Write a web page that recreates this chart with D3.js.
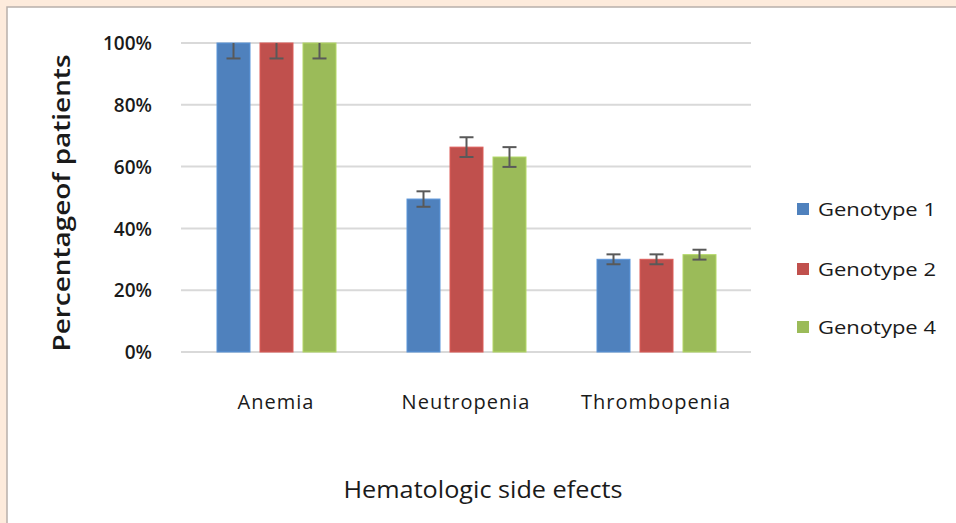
<!DOCTYPE html>
<html><head><meta charset="utf-8">
<script src="https://cdn.jsdelivr.net/npm/d3@7/dist/d3.min.js"></script>
<style>
html,body{margin:0;padding:0;background:#fdebdc;}
svg{display:block;}
text{font-family:"Open Sans","Noto Sans",sans-serif;fill:#1a1a1a;}
</style></head>
<body>
<svg id="chart" width="956" height="523"></svg>
<script>
const categories = ["Anemia", "Neutropenia", "Thrombopenia"];
const seriesNames = ["Genotype 1", "Genotype 2", "Genotype 4"];
const genotype1 = [100, 49.5, 30];
const genotype2 = [100, 66.3, 30];
const genotype4 = [100, 63.1, 31.5];
const err1 = [5, 2.5, 1.6];
const err2 = [5, 3.2, 1.6];
const err4 = [5, 3.2, 1.6];
const yTicks = [0, 20, 40, 60, 80, 100];
const colors = ["#4f81bd", "#c0504d", "#9bbb59"];

const values = [genotype1, genotype2, genotype4];
const errors = [err1, err2, err4];

const svg = d3.select("#chart");
svg.append("rect").attr("x", 0).attr("y", 0).attr("width", 956).attr("height", 523).attr("fill", "#fdebdc");
svg.append("rect").attr("x", 7).attr("y", 7).attr("width", 960).attr("height", 530)
  .attr("fill", "#ffffff").attr("stroke", "#b8b0aa").attr("stroke-width", 1.5);

const x = d3.scaleBand().domain(categories).range([181, 751]).paddingInner(0).paddingOuter(0);
const xs = d3.scaleBand().domain(seriesNames).range([36, 155]).paddingInner(10/43).paddingOuter(0);
const y = d3.scaleLinear().domain([0, 100]).range([352, 43]);

svg.append("g").selectAll("line").data(yTicks).join("line")
  .attr("x1", 181).attr("x2", 751)
  .attr("y1", d => y(d)).attr("y2", d => y(d))
  .attr("stroke", "#d9d9d9").attr("stroke-width", 2);

const yAxis = d3.axisLeft(y).tickValues(yTicks).tickFormat(d => d + "%").tickSize(0).tickPadding(0);
const gy = svg.append("g").attr("transform", "translate(152,0)").call(yAxis);
gy.select(".domain").remove();
gy.selectAll("text").attr("font-size", 19).attr("font-weight", 600)
  .attr("font-family", "'Open Sans','Noto Sans',sans-serif").attr("fill", "#1a1a1a")
  .attr("dy", "0.35em");

const groups = svg.append("g").selectAll("g").data(categories).join("g")
  .attr("transform", d => `translate(${x(d)},0)`);

seriesNames.forEach((s, si) => {
  groups.append("rect")
    .attr("x", xs(s)).attr("width", xs.bandwidth())
    .attr("y", (d, ci) => y(values[si][ci]))
    .attr("height", (d, ci) => y(0) - y(values[si][ci]))
    .attr("fill", colors[si])
    .attr("stroke", d3.color(colors[si]).brighter(0.4)).attr("stroke-width", 1);
});

seriesNames.forEach((s, si) => {
  const cx = xs(s) + xs.bandwidth() / 2;
  groups.each(function(d, ci) {
    const g = d3.select(this);
    const v = values[si][ci], e = errors[si][ci];
    const hi = Math.min(100, v + e), lo = Math.max(0, v - e);
    g.append("line").attr("x1", cx).attr("x2", cx).attr("y1", y(hi)).attr("y2", y(lo))
      .attr("stroke", "#595959").attr("stroke-width", 2);
    if (v + e <= 100) {
      g.append("line").attr("x1", cx - 7).attr("x2", cx + 7).attr("y1", y(hi)).attr("y2", y(hi))
        .attr("stroke", "#595959").attr("stroke-width", 2);
    }
    g.append("line").attr("x1", cx - 7).attr("x2", cx + 7).attr("y1", y(lo)).attr("y2", y(lo))
      .attr("stroke", "#595959").attr("stroke-width", 2);
  });
});

const xAxis = d3.axisBottom(x).tickSize(0).tickPadding(0);
const gx = svg.append("g").attr("transform", "translate(0,402)").call(xAxis);
gx.select(".domain").remove();
gx.selectAll("text").attr("font-size", 20).attr("letter-spacing", "1px")
  .attr("font-family", "'Open Sans','Noto Sans',sans-serif")
  .attr("fill", "#1a1a1a").attr("dy", "0.35em").attr("y", 0);

svg.append("text").attr("x", 483).attr("y", 498).attr("text-anchor", "middle")
  .attr("font-size", 23).attr("textLength", 279).attr("lengthAdjust", "spacingAndGlyphs")
  .text("Hematologic side efects");
svg.append("text").attr("transform", "translate(70,203) rotate(-90)").attr("text-anchor", "middle")
  .attr("font-size", 23).attr("font-weight", 600).attr("textLength", 297).attr("lengthAdjust", "spacingAndGlyphs")
  .text("Percentageof patients");

const legY = [209, 269, 327];
const leg = svg.append("g").selectAll("g").data(seriesNames).join("g")
  .attr("transform", (d, i) => `translate(797,${legY[i]})`);
leg.append("rect").attr("x", 0).attr("y", -6).attr("width", 12).attr("height", 12)
  .attr("fill", (d, i) => colors[i]);
leg.append("text").attr("x", 21).attr("y", 0).attr("dy", "0.35em")
  .attr("font-size", 19).attr("textLength", 118).attr("lengthAdjust", "spacingAndGlyphs")
  .text(d => d);
</script>
</body></html>
